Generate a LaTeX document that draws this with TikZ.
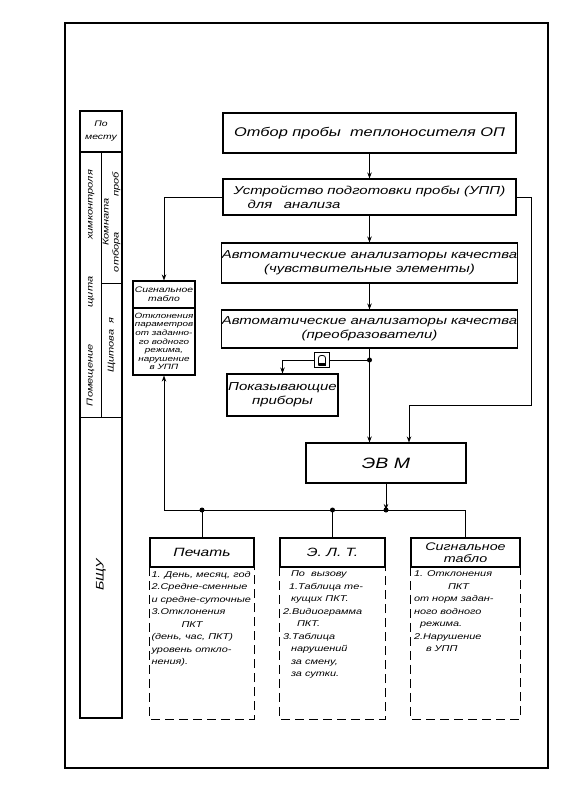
\documentclass[tikz,border=0pt]{standalone}
\usepackage{fontspec}
\newfontfamily\hw{Liberation Sans}[FakeStretch=1.3]
\usetikzlibrary{arrows.meta,calc}
\tikzset{
 box/.style={draw, line width=1.1pt, inner sep=0pt, align=center, font=\hw\itshape\fontsize{11.5}{14}\selectfont},
 hdr/.style={draw, line width=1.1pt, inner sep=0pt, align=center, font=\hw\itshape\fontsize{12}{13}\selectfont},
 conn/.style={line width=0.8pt},
 arr/.style={conn, -{Stealth[length=6pt,width=4.5pt]}},
 bodytxt/.style={inner sep=0pt, anchor=north west, align=left, font=\hw\itshape\fontsize{8.4}{12.5}\selectfont},
 dashbody/.style={line width=1pt, dash pattern=on 9pt off 5pt},
 vlabel/.style={rotate=90, inner sep=0pt, font=\hw\itshape\fontsize{8.5}{10}\selectfont},
 frameline/.style={line width=1.1pt},
}
\begin{document}
\begin{tikzpicture}[x=1pt,y=-1pt]
\useasboundingbox (0,0) rectangle (575,792);
\draw[line width=1.2pt] (65,23) rectangle (548,768);

% left column
\draw[frameline] (80,111) rectangle (122,718);
\draw[frameline] (80,152) -- (122,152);
\draw[conn] (101,152) -- (101,417);
\draw[conn] (101,283) -- (122,283);
\draw[conn] (80,417) -- (122,417);
\node[inner sep=0pt, align=center, font=\hw\itshape\fontsize{8}{13}\selectfont] (pm) at (101,131) {По\\месту};
\node[vlabel] (lc1) at (90.5,288) {\makebox[236pt][s]{Помещение щита химконтроля}};
\node[vlabel, align=center] (lc2) at (111.5,222) {Комната\\\makebox[100pt][s]{отбора проб}};
\node[vlabel] (lc3) at (111.5,345) {Щитова\ \ я};
\node[vlabel, font=\hw\itshape\fontsize{11}{12}\selectfont] (lc4) at (101,575) {БЩУ};

% main boxes
\node[box, minimum width=293pt, minimum height=40pt, font=\hw\itshape\fontsize{12.6}{14}\selectfont] (b1) at (369.5,133) {Отбор пробы\ \ теплоносителя ОП};
\node[box, minimum width=293pt, minimum height=36pt, align=left] (b2) at (369.5,197) {Устройство подготовки пробы (УПП)\\\hspace*{14pt}для\quad анализа};
\node[box, minimum width=292pt, minimum height=40pt] (b3) at (369.5,263) {Автоматические анализаторы качества\\(чувствительные элементы)};
\node[box, minimum width=292pt, minimum height=38pt] (b4) at (369.5,329) {Автоматические анализаторы качества\\(преобразователи)};
\node[box, minimum width=111pt, minimum height=42pt] (pok) at (282.5,395) {Показывающие\\приборы};
\node[box, minimum width=160pt, minimum height=40pt, font=\hw\itshape\fontsize{15}{16}\selectfont] (evm) at (386,463) {ЭВ\ М};

% left signal board
\node[draw, line width=1.1pt, minimum width=62pt, minimum height=27pt, inner sep=0pt, align=center, font=\hw\itshape\fontsize{8}{9}\selectfont] (sgh) at (164,294.5) {Сигнальное\\табло};
\node[draw, line width=1.1pt, minimum width=62pt, minimum height=67pt, inner sep=0pt, align=center, font=\hw\itshape\fontsize{7.6}{8.6}\selectfont] (sgb) at (164,341.5) {Отклонения\\параметров\\от заданно-\\го водного\\режима,\\нарушение\\в УПП};

% fuse-like symbol
\node[draw, line width=0.9pt, minimum width=15pt, minimum height=15pt, inner sep=0pt] (fz) at (322,360) {};
\draw[line width=0.8pt, rounded corners=2.5pt] ($(fz.center)+(-3.5,5.5)$) -- ($(fz.center)+(-3.5,-4.5)$) -- ($(fz.center)+(3.5,-4.5)$) -- ($(fz.center)+(3.5,5.5)$);
\fill ($(fz.center)+(-3.5,3)$) rectangle ($(fz.center)+(3.5,5.5)$);

% bottom boxes
\node[hdr, minimum width=104pt, minimum height=29pt] (pech) at (202,552.5) {Печать};
\node[minimum width=104pt, minimum height=152pt, inner sep=0pt] (pechb) at (202,643) {};
\draw[dashbody] (pechb.north west) -- (pechb.south west) -- (pechb.south east) -- (pechb.north east);
\node[bodytxt] (pecht) at ($(pechb.north west)+(1.5,4)$) {1. День, месяц, год\\2.Средне-сменные\\и средне-суточные\\3.Отклонения\\\hspace*{30pt}ПКТ\\(день, час, ПКТ)\\уровень откло-\\нения).};

\node[hdr, minimum width=105pt, minimum height=29pt] (elt) at (332.5,552.5) {Э.\ Л.\ Т.};
\node[minimum width=105pt, minimum height=152pt, inner sep=0pt] (eltb) at (332.5,643) {};
\draw[dashbody] (eltb.north west) -- (eltb.south west) -- (eltb.south east) -- (eltb.north east);
\node[bodytxt] (eltt) at ($(eltb.north west)+(3,4)$) {\hspace*{8pt}По\ \ вызову\\\hspace*{6pt}1.Таблица те-\\\hspace*{8pt}кущих ПКТ.\\2.Видиограмма\\\hspace*{14pt}ПКТ.\\3.Таблица\\\hspace*{8pt}нарушений\\\hspace*{8pt}за смену,\\\hspace*{8pt}за сутки.};

\node[hdr, minimum width=109pt, minimum height=29pt, font=\hw\itshape\fontsize{11}{12.5}\selectfont] (sg2) at (465.5,552.5) {Сигнальное\\табло};
\node[minimum width=109pt, minimum height=152pt, inner sep=0pt] (sg2b) at (465.5,643) {};
\draw[dashbody] (sg2b.north west) -- (sg2b.south west) -- (sg2b.south east) -- (sg2b.north east);
\node[bodytxt] (sg2t) at ($(sg2b.north west)+(3,4)$) {1. Отклонения\\\hspace*{34pt}ПКТ\\от норм задан-\\ного водного\\\hspace*{6pt}режима.\\2.Нарушение\\\hspace*{12pt}в УПП};

% connectors
\draw[arr] (b1.south) -- (b2.north);
\draw[arr] (b2.south) -- (b3.north);
\draw[arr] (b3.south) -- (b4.north);
\coordinate (j1) at (369.5,360);
\draw[conn] (b4.south) -- (j1);
\fill (j1) circle (2.5);
\draw[arr] (j1) -- (j1 |- evm.north);
\draw[conn] (j1) -- (fz.east);
\draw[arr] (fz.west) -| (pok.north);
\coordinate (rc) at (531,405);
\draw[arr] (b2.east) -| (rc) -| ([xshift=23pt]evm.north);
\draw[arr] (b2.west) -| (sgh.north);

\coordinate (bus) at (0,510);
\draw[arr] (sg2.north) |- (sgb.south |- bus) -- (sgb.south);
\draw[conn] (pech.north) -- (pech.north |- bus);
\fill (pech.north |- bus) circle (2.5);
\draw[conn] (elt.north) -- (elt.north |- bus);
\fill (elt.north |- bus) circle (2.5);
\draw[arr] (evm.south) -- (evm.south |- bus);
\fill (evm.south |- bus) circle (2.5);
\end{tikzpicture}
\end{document}
